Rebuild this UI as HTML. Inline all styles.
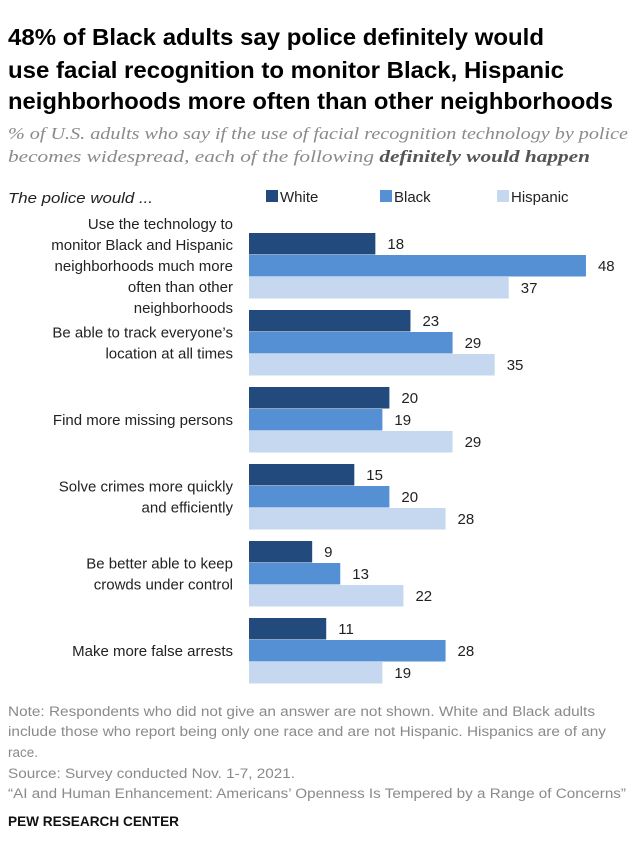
<!DOCTYPE html>
<html><head><meta charset="utf-8"><style>
body{margin:0;background:#fff;}
svg{display:block;font-family:"Liberation Sans",sans-serif;}
</style></head><body>
<svg width="639" height="857" viewBox="0 0 639 857">
<g font-weight="bold" font-size="23" fill="#000">
<text x="8" y="45" textLength="536" lengthAdjust="spacingAndGlyphs">48% of Black adults say police definitely would</text>
<text x="8" y="78" textLength="556" lengthAdjust="spacingAndGlyphs">use facial recognition to monitor Black, Hispanic</text>
<text x="8" y="109" textLength="605" lengthAdjust="spacingAndGlyphs">neighborhoods more often than other neighborhoods</text>
</g>
<g font-family="Liberation Serif,serif" font-style="italic" font-size="17" fill="#8a8a8a">
<text x="8" y="139" textLength="620" lengthAdjust="spacingAndGlyphs">% of U.S. adults who say if the use of facial recognition technology by police</text>
<text x="8" y="162" textLength="582" lengthAdjust="spacingAndGlyphs">becomes widespread, each of the following <tspan font-weight="bold" fill="#555">definitely would happen</tspan></text>
</g>
<text x="8" y="203" font-style="italic" font-size="15" fill="#222" textLength="145" lengthAdjust="spacingAndGlyphs">The police would ...</text>
<g id="legend" font-size="15" fill="#222"></g>
<g id="bars"></g>
<g font-size="13.5" fill="#8a8a8a">
<text x="8" y="716" textLength="587" lengthAdjust="spacingAndGlyphs">Note: Respondents who did not give an answer are not shown. White and Black adults</text>
<text x="8" y="736" textLength="598" lengthAdjust="spacingAndGlyphs">include those who report being only one race and are not Hispanic. Hispanics are of any</text>
<text x="8" y="757">race.</text>
<text x="8" y="778" textLength="287" lengthAdjust="spacingAndGlyphs">Source: Survey conducted Nov. 1-7, 2021.</text>
<text x="8" y="798" textLength="618" lengthAdjust="spacingAndGlyphs">“AI and Human Enhancement: Americans’ Openness Is Tempered by a Range of Concerns”</text>
</g>
<text x="8" y="826" font-weight="bold" font-size="14" fill="#111" textLength="171" lengthAdjust="spacingAndGlyphs">PEW RESEARCH CENTER</text>
</svg>
<script>
const categories=[
 ["Use the technology to","monitor Black and Hispanic","neighborhoods much more","often than other","neighborhoods"],
 ["Be able to track everyone’s","location at all times"],
 ["Find more missing persons"],
 ["Solve crimes more quickly","and efficiently"],
 ["Be better able to keep","crowds under control"],
 ["Make more false arrests"]];
const seriesNames=["White","Black","Hispanic"];
const white=[18,23,20,15,9,11];
const black=[48,29,19,20,13,28];
const hispanic=[37,35,29,28,22,19];
const colors=["#234a7c","#5590d4","#c5d8ef"];
const NS="http://www.w3.org/2000/svg";
const x0=249, scale=7.02, top0=233, step=77, bh=22;
const xs=v=>v*scale;
function mk(t,a,p){const e=document.createElementNS(NS,t);for(const k in a)e.setAttribute(k,a[k]);p.appendChild(e);return e;}
const lg=document.getElementById('legend');
const lx=[266,380,497];
seriesNames.forEach((n,i)=>{
 const g=mk('g',{},lg);
 
 
 mk('rect',{x:lx[i],y:190,width:12,height:12,fill:colors[i]},g);
 const t=mk('text',{x:lx[i]+14,y:202},g);t.textContent=n;
});
const bg=document.getElementById('bars');
const series=[white,black,hispanic];
categories.forEach((lines,c)=>{
 const g=mk('g',{},bg);
 
 
 const top=top0+c*step;
 const mid=top+33;
 const lh=21;
 lines.forEach((l,j)=>{
  const t=mk('text',{x:233,y:mid+(j-(lines.length-1)/2)*lh+5,'text-anchor':'end','font-size':15,fill:'#222'},g);
  
  
  t.textContent=l;
 });
 series.forEach((s,i)=>{
  const y=top+i*bh;
  const r=mk('rect',{x:x0,y:y,width:xs(s[c]),height:bh-0.5,fill:colors[i]},g);
  
  
  const t=mk('text',{x:x0+xs(s[c])+12,y:y+16,'font-size':15,fill:'#222'},g);
  
  
  t.textContent=s[c];
 });
});
</script>
</body></html>
